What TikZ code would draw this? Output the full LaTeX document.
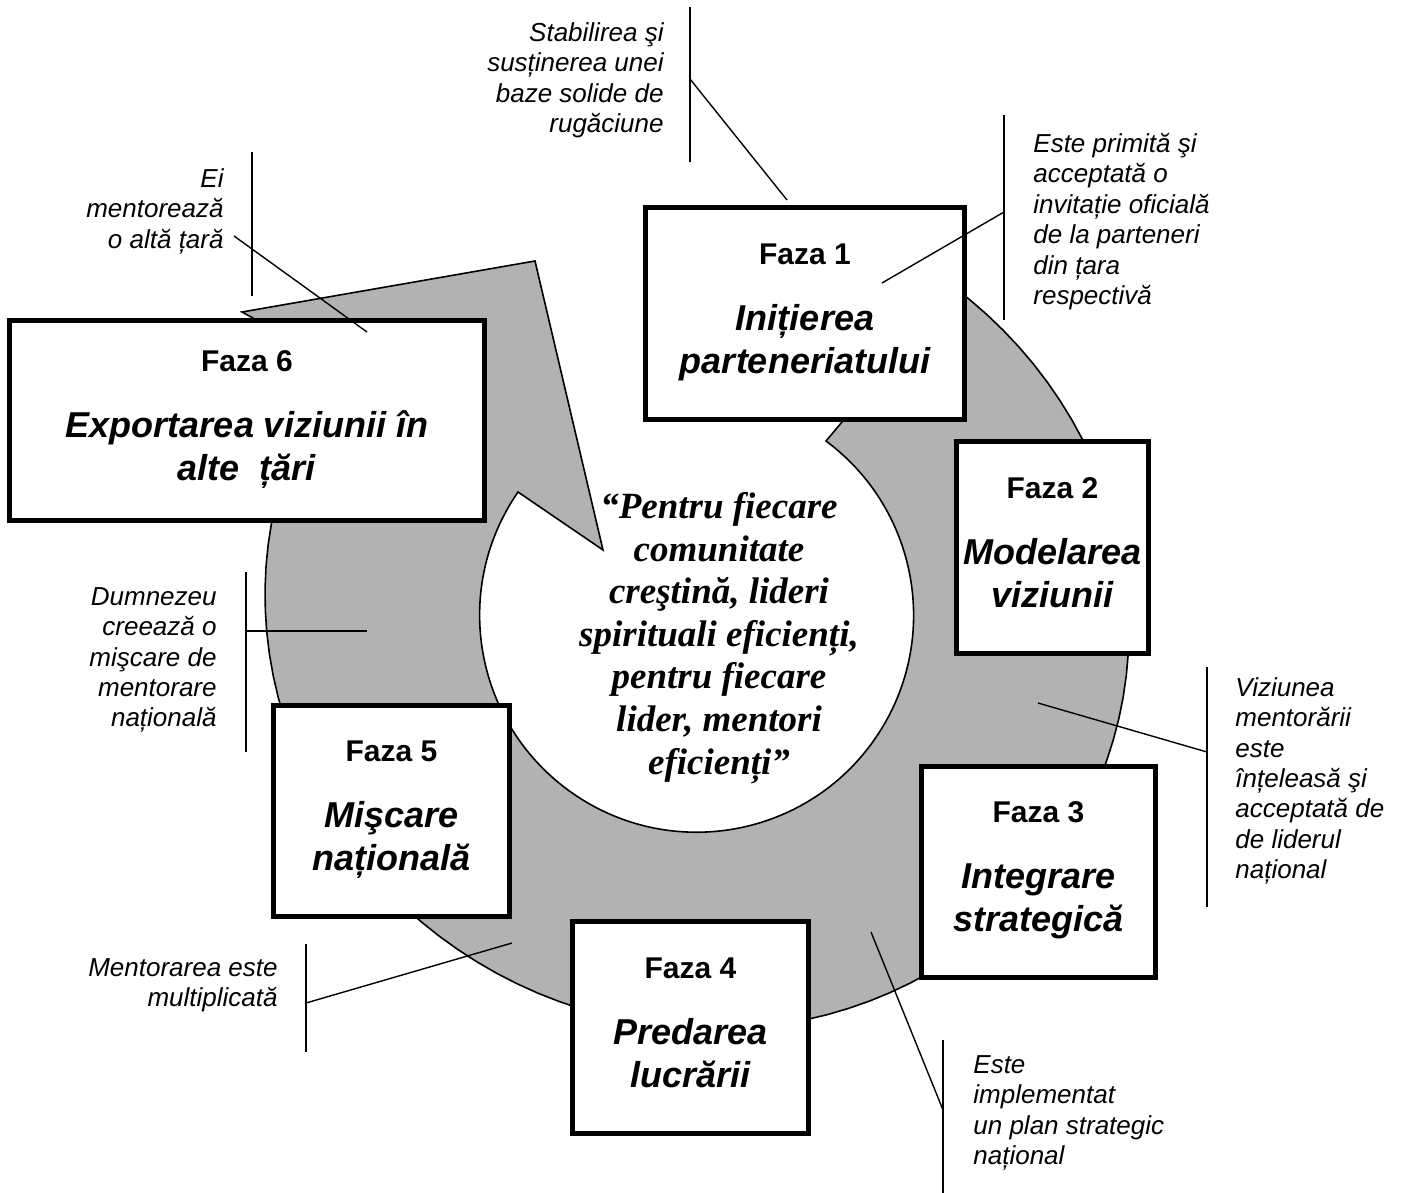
\documentclass[tikz,border=0pt]{standalone}
\usepackage{fontspec}
\setmainfont{Liberation Serif}
\newfontfamily\arial{Liberation Sans}

\tikzset{
  inel/.style={draw=black,fill=black!30,line width=0.8pt},
  faza/.style={draw=black,fill=white,line width=2.5pt,inner sep=0pt,align=center,
    text depth=5pt,font=\arial\fontsize{18}{21.5}\selectfont\bfseries\itshape},
  nota/.style={inner sep=0pt,font=\arial\fontsize{13}{15.2}\selectfont\itshape},
  bara/.style={line width=1.2pt},
  fir/.style={line width=0.7pt}
}
\newcommand{\etfaza}[1]{{\fontsize{15}{18}\selectfont\upshape #1}}

\begin{document}
\begin{tikzpicture}[x=0.5pt,y=-0.5pt]
        \useasboundingbox (0,0) rectangle (1408,1193) ;
        % inelul cu sageata (elipsa rotita cu 25 grade)
        \draw[inel] plot[domain=-77.7:190.1,samples=90,variable=\t]
          ({697+436*cos(\t)*cos(25)-413*sin(\t)*sin(25)},
           {612+436*cos(\t)*sin(25)+413*sin(\t)*cos(25)})
          -- (242,312) -- (535,261) -- (603,550) -- (518,492)
          arc[start angle=214.6,end angle=-53.4,radius=217] -- (842,422) -- cycle ;
        % fazele
        \node[faza,minimum width=159.5pt,minimum height=106pt] (f1) at (805,313.5)
          {\etfaza{Faza 1}\\[11.5pt]Inițierea\\parteneriatului} ;
        \node[faza,minimum width=96pt,minimum height=106pt] (f2) at (1052.5,547.5)
          {\etfaza{Faza 2}\\[11.5pt]Modelarea\\viziunii} ;
        \node[faza,minimum width=117pt,minimum height=105.5pt] (f3) at (1038.5,872)
          {\etfaza{Faza 3}\\[11.5pt]Integrare\\strategică} ;
        \node[faza,minimum width=118pt,minimum height=106pt] (f4) at (690.5,1027.5)
          {\etfaza{Faza 4}\\[11.5pt]Predarea\\lucrării} ;
        \node[faza,minimum width=118pt,minimum height=105.5pt] (f5) at (391.5,811)
          {\etfaza{Faza 5}\\[11.5pt]Mişcare\\națională} ;
        \node[faza,minimum width=237.5pt,minimum height=100pt] (f6) at (247,420.5)
          {\etfaza{Faza 6}\\[11.5pt]Exportarea viziunii în\\alte\ \ țări} ;
        % motto
        \node[font=\fontsize{18.5}{21.3}\selectfont\bfseries\itshape,align=center,
          inner sep=0pt,anchor=north] (motto) at (719,492)
          {“Pentru fiecare\\comunitate\\creştină, lideri\\spirituali eficienți,\\pentru fiecare\\lider, mentori\\eficienți”} ;
        % note
        \node[nota,align=right,anchor=north east] (n1) at (664,22)
          {Stabilirea şi\\susținerea unei\\baze solide de\\rugăciune} ;
        \node[nota,align=left,anchor=north west] (n2) at (1033,133)
          {Este primită şi\\acceptată o\\invitație oficială\\de la parteneri\\din țara\\respectivă} ;
        \node[nota,align=right,anchor=north east] (n3) at (224,168)
          {Ei\\mentorează\\o altă țară} ;
        \node[nota,align=right,anchor=north east] (n4) at (217,587)
          {Dumnezeu\\creează o\\mişcare de\\mentorare\\națională} ;
        \node[nota,align=right,anchor=north east] (n5) at (278,958)
          {Mentorarea este\\multiplicată} ;
        \node[nota,align=left,anchor=north west] (n6) at (973,1055)
          {Este\\implementat\\un plan strategic\\național} ;
        \node[nota,align=left,anchor=north west] (n7) at (1235,677)
          {Viziunea\\mentorării\\este\\înțeleasă şi\\acceptată de\\de liderul\\național} ;
        % bare si fire
        \coordinate (s1a) at (690,7) ; \coordinate (s1b) at (690,162) ;
        \coordinate (p1a) at (690,79) ; \coordinate (p1b) at (787,200) ;
        \coordinate (s2a) at (1004,115) ; \coordinate (s2b) at (1004,320) ;
        \coordinate (p2a) at (1004,212) ; \coordinate (p2b) at (882,283) ;
        \coordinate (s3a) at (252,152) ; \coordinate (s3b) at (252,296) ;
        \coordinate (p3a) at (234,236) ; \coordinate (p3b) at (367,332) ;
        \coordinate (s4a) at (246,572) ; \coordinate (s4b) at (246,752) ;
        \coordinate (p4a) at (246,631) ; \coordinate (p4b) at (367,631) ;
        \coordinate (s5a) at (306,944) ; \coordinate (s5b) at (306,1052) ;
        \coordinate (p5a) at (306,1003) ; \coordinate (p5b) at (512,943) ;
        \coordinate (s6a) at (943,1040) ; \coordinate (s6b) at (943,1193) ;
        \coordinate (p6a) at (943,1110) ; \coordinate (p6b) at (871,932) ;
        \coordinate (s7a) at (1207,667) ; \coordinate (s7b) at (1207,907) ;
        \coordinate (p7a) at (1207,752) ; \coordinate (p7b) at (1038,703) ;
        \foreach \i in {1,...,7} {
          \draw[bara] (s\i a) -- (s\i b) ;
          \draw[fir] (p\i a) -- (p\i b) ;
        }
\end{tikzpicture}
\end{document}
